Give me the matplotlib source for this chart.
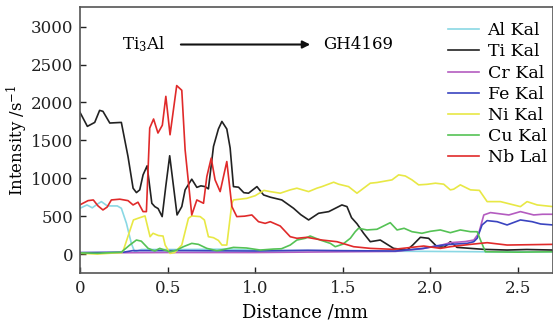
import matplotlib
matplotlib.use("Agg")
import matplotlib.pyplot as plt

plt.rcParams['font.family'] = ['DejaVu Serif']
plt.rcParams['mathtext.fontset'] = 'dejavuserif'

# ---- data ----
al_x = [0, 0.04, 0.07, 0.1, 0.122, 0.156, 0.213, 0.236, 0.265, 0.293, 0.312, 0.35, 0.6, 0.85, 1.0, 1.5, 2.0, 2.3, 2.7]
al_y = [604, 648, 610, 660, 692, 635, 635, 604, 406, 141, 30, 60, 60, 65, 50, 40, 35, 30, 30]

ti_x = [0, 0.042, 0.084, 0.112, 0.131, 0.17, 0.236, 0.274, 0.303, 0.322, 0.341, 0.36, 0.383, 0.41, 0.427,
        0.446, 0.469, 0.49, 0.512, 0.554, 0.581, 0.6, 0.638, 0.667, 0.69, 0.714, 0.733, 0.762, 0.79, 0.81,
        0.838, 0.857, 0.876, 0.905, 0.935, 0.962, 1.01, 1.048, 1.087, 1.152, 1.219, 1.26, 1.305, 1.362,
        1.42, 1.495, 1.524, 1.55, 1.581, 1.619, 1.657, 1.714, 1.79, 1.867, 1.9, 1.943, 1.99, 2.038, 2.08,
        2.114, 2.152, 2.2, 2.305, 2.438, 2.55, 2.7]
ti_y = [1870, 1685, 1737, 1896, 1883, 1729, 1737, 1287, 869, 811, 847, 1045, 1164, 670, 626,
        600, 494, 900, 1297, 516, 626, 847, 988, 880, 900, 890, 860, 1420, 1650, 1750,
        1650, 1400, 890, 882, 810, 803, 890, 780, 750, 714, 604, 520, 450, 538,
        560, 648, 626, 480, 400, 274, 163, 185, 75, 53, 120, 221, 208, 97, 90,
        163, 88, 80, 62, 53, 60, 53]

cr_x = [0, 0.5, 1.0, 1.5, 1.8, 1.95, 2.05, 2.114, 2.2, 2.248, 2.276, 2.305, 2.343, 2.4, 2.448, 2.514, 2.59, 2.64, 2.7]
cr_y = [15, 20, 20, 30, 35, 70, 110, 150, 165, 185, 274, 516, 547, 530, 516, 560, 516, 525, 525]

fe_x = [0, 0.25, 0.3, 0.6, 1.0, 1.3, 1.5, 1.8, 1.962, 2.038, 2.114, 2.21, 2.248, 2.267, 2.295, 2.324,
        2.381, 2.438, 2.514, 2.581, 2.629, 2.7]
fe_y = [20, 25, 45, 45, 40, 50, 45, 40, 75, 110, 128, 141, 163, 208, 384, 441,
        427, 384, 450, 427, 397, 384]

ni_x = [0, 0.1, 0.2, 0.236, 0.248, 0.305, 0.331, 0.371, 0.4, 0.417, 0.448, 0.474, 0.486, 0.514, 0.54,
        0.581, 0.619, 0.638, 0.686, 0.71, 0.733, 0.762, 0.79, 0.81, 0.838, 0.867, 0.876, 0.952, 1.0,
        1.05, 1.086, 1.143, 1.2, 1.238, 1.305, 1.352, 1.381, 1.448, 1.476, 1.533, 1.581, 1.619, 1.657,
        1.695, 1.781, 1.819, 1.857, 1.895, 1.933, 1.98, 2.029, 2.076, 2.114, 2.133, 2.171, 2.229, 2.28,
        2.324, 2.4, 2.514, 2.552, 2.61, 2.7]
ni_y = [10, 0, 15, 17, 53, 450, 472, 503, 229, 274, 244, 238, 119, 9, 20,
        119, 472, 503, 494, 450, 229, 216, 180, 119, 119, 670, 714, 735, 770,
        840, 824, 803, 847, 869, 824, 869, 890, 948, 922, 890, 803, 869, 935,
        944, 979, 1045, 1030, 979, 913, 920, 935, 922, 847, 856, 913, 847, 840,
        692, 692, 626, 692, 648, 626]

cu_x = [0, 0.1, 0.236, 0.284, 0.322, 0.35, 0.389, 0.427, 0.455, 0.512, 0.55, 0.59, 0.638, 0.676, 0.724,
        0.781, 0.82, 0.876, 0.95, 1.029, 1.105, 1.15, 1.2, 1.238, 1.286, 1.314, 1.371, 1.429, 1.457, 1.5,
        1.543, 1.571, 1.59, 1.638, 1.695, 1.771, 1.81, 1.85, 1.895, 1.952, 2.0, 2.057, 2.114, 2.171,
        2.229, 2.267, 2.286, 2.314, 2.5, 2.7]
cu_y = [15, 10, 25, 119, 185, 170, 75, 40, 75, 30, 50, 97, 141, 128, 75,
        44, 60, 88, 80, 53, 66, 70, 119, 185, 208, 238, 185, 141, 97, 130,
        208, 295, 340, 318, 327, 414, 318, 340, 295, 274, 300, 318, 282, 318,
        295, 295, 185, 30, 25, 30]

nb_x = [0, 0.046, 0.076, 0.103, 0.131, 0.155, 0.179, 0.227, 0.274, 0.303, 0.331, 0.36, 0.379, 0.398,
        0.42, 0.445, 0.47, 0.49, 0.514, 0.552, 0.581, 0.6, 0.638, 0.667, 0.705, 0.724, 0.749, 0.771,
        0.8, 0.838, 0.867, 0.895, 0.94, 0.981, 1.019, 1.057, 1.086, 1.143, 1.2, 1.238, 1.295, 1.381,
        1.467, 1.562, 1.657, 1.79, 1.962, 2.057, 2.114, 2.229, 2.324, 2.438, 2.7]
nb_y = [650, 705, 714, 635, 582, 620, 714, 724, 705, 648, 684, 560, 560, 1663,
        1782, 1597, 1700, 2081, 1574, 2223, 2161, 1376, 516, 714, 670, 1023, 1266, 979,
        824, 1221, 626, 494, 500, 516, 427, 405, 427, 370, 229, 208, 221, 185,
        163, 97, 75, 62, 106, 75, 97, 128, 150, 119, 128]

labels = ['Al Kal', 'Ti Kal', 'Cr Kal', 'Fe Kal', 'Ni Kal', 'Cu Kal', 'Nb Lal']
colors = ['#8ad8e4', '#222222', '#b45cc0', '#3a44c0', '#e8e845', '#55c255', '#e02a2a']
series = [(al_x, al_y), (ti_x, ti_y), (cr_x, cr_y), (fe_x, fe_y), (ni_x, ni_y), (cu_x, cu_y), (nb_x, nb_y)]

xticks = [0, 0.5, 1.0, 1.5, 2.0, 2.5]
xticklabels = ['0', '0.5', '1.0', '1.5', '2.0', '2.5']
yticks = [0, 500, 1000, 1500, 2000, 2500, 3000]

fig = plt.figure(figsize=(5.53, 3.27), dpi=100)
ax = fig.add_axes([80/553, 54/327, 473/553, 266/327])

for (x, y), lab, c in zip(series, labels, colors):
    ax.plot(x, y, color=c, lw=1.2, label=lab)

ax.set_xlim(0, 2.70)
ax.set_ylim(-250, 3260)
ax.set_xticks(xticks)
ax.set_xticklabels(xticklabels)
ax.set_yticks(yticks)
ax.tick_params(direction='in', length=4, width=1, labelsize=12, colors='#222222', pad=5)
for s in ax.spines.values():
    s.set_color('#555555')
    s.set_linewidth(1.2)

ax.set_xlabel('Distance /mm', fontsize=13, labelpad=1)
ax.set_ylabel('Intensity /s$^{-1}$', fontsize=12)
ax.xaxis.set_label_coords(0.475, -0.115)
ax.yaxis.set_label_coords(-0.105, 0.5)

ax.text(0.24, 2765, 'Ti$_3$Al', fontsize=12, va='center', ha='left')
ax.annotate('', xy=(1.33, 2765), xytext=(0.56, 2765),
            arrowprops=dict(arrowstyle='-|>', color='#111111', lw=1.5, mutation_scale=11))
ax.text(1.39, 2765, 'GH4169', fontsize=12, va='center', ha='left')

leg = ax.legend(loc='upper right', frameon=False, fontsize=12.5, handlelength=1.8,
                handletextpad=0.5, labelspacing=0.24, borderaxespad=0.1,
                bbox_to_anchor=(1.005, 0.975))

fig.savefig('out.png', dpi=100)
